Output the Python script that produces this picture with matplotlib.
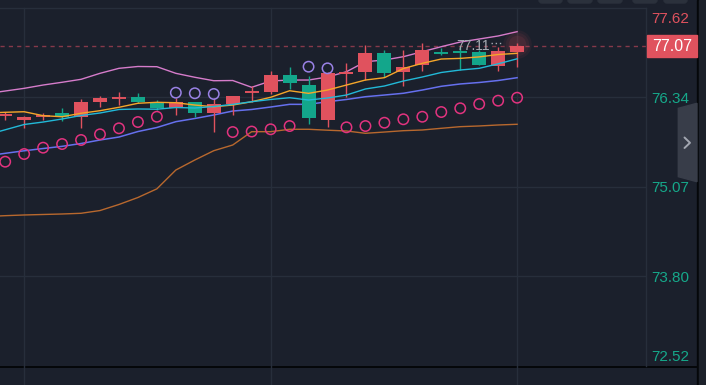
import numpy as np
import matplotlib
matplotlib.use("Agg")
import matplotlib.pyplot as plt
from matplotlib.patches import Rectangle, Polygon, FancyBboxPatch

# ---------------- data ----------------
opens  = [76.08, 76.02, 76.06, 76.12, 76.06, 76.27, 76.32, 76.34, 76.27, 76.18,
          76.265, 76.11, 76.24, 76.40, 76.41, 76.65, 76.51, 76.02, 76.66, 76.70,
          76.96, 76.695, 76.79, 76.975, 76.985, 76.98, 76.78, 76.98]
highs  = [76.13, 76.07, 76.11, 76.18, 76.31, 76.35, 76.41, 76.40, 76.30, 76.33,
          76.27, 76.33, 76.36, 76.49, 76.71, 76.76, 76.64, 76.70, 76.82, 77.08,
          77.01, 77.00, 77.10, 77.04, 77.07, 77.00, 77.05, 77.11]
lows   = [76.01, 75.90, 76.01, 76.00, 75.90, 76.20, 76.23, 76.26, 76.16, 76.085,
          76.06, 75.85, 76.085, 76.27, 76.38, 76.46, 75.95, 75.91, 76.34, 76.58,
          76.62, 76.49, 76.71, 76.93, 76.72, 76.79, 76.71, 76.77]
closes = [76.09, 76.06, 76.07, 76.06, 76.27, 76.32, 76.33, 76.27, 76.18, 76.265,
          76.117, 76.236, 76.35, 76.41, 76.65, 76.54, 76.04, 76.68, 76.69, 76.97,
          76.685, 76.76, 77.00, 76.965, 76.98, 76.80, 76.99, 77.07]

# indicator lines (index -1 .. 27)
band_upper = [76.387, 76.425, 76.463, 76.510, 76.549, 76.591, 76.676, 76.747, 76.773, 76.770,
              76.676, 76.620, 76.571, 76.574, 76.478, 76.567, 76.581, 76.581, 76.624, 76.699,
              76.841, 76.865, 76.912, 76.983, 77.054, 77.120, 77.163, 77.206, 77.267]
ma_orange  = [76.113, 76.123, 76.131, 76.075, 76.060, 76.109, 76.146, 76.194, 76.251, 76.265,
              76.259, 76.226, 76.202, 76.226, 76.273, 76.336, 76.429, 76.392, 76.439, 76.510,
              76.581, 76.614, 76.744, 76.818, 76.879, 76.888, 76.909, 76.943, 76.960]
ma_cyan    = [75.801, 75.875, 75.950, 75.985, 76.028, 76.078, 76.113, 76.163, 76.170, 76.167,
              76.191, 76.184, 76.205, 76.236, 76.273, 76.305, 76.330, 76.297, 76.326, 76.368,
              76.454, 76.496, 76.567, 76.624, 76.688, 76.723, 76.747, 76.811, 76.882]
ma_blue    = [75.503, 75.541, 75.577, 75.609, 75.640, 75.680, 75.730, 75.772, 75.850, 75.907,
              75.990, 76.035, 76.085, 76.141, 76.163, 76.198, 76.236, 76.236, 76.273, 76.305,
              76.344, 76.368, 76.393, 76.439, 76.492, 76.525, 76.546, 76.574, 76.614]
band_lower = [74.644, 74.656, 74.666, 74.673, 74.680, 74.690, 74.729, 74.815, 74.914, 75.037,
              75.304, 75.446, 75.578, 75.659, 75.848, 75.848, 75.882, 75.882, 75.869, 75.858,
              75.825, 75.843, 75.862, 75.872, 75.896, 75.919, 75.929, 75.943, 75.953]

# parabolic SAR (index 0 .. 27); True = dot above price
sar_values = [75.422, 75.531, 75.621, 75.673, 75.730, 75.811, 75.896, 75.985, 76.060, 76.401,
              76.393, 76.383, 75.843, 75.850, 75.882, 75.928, 76.770, 76.747, 75.910, 75.928,
              75.975, 76.024, 76.060, 76.127, 76.180, 76.241, 76.288, 76.330]
sar_above  = [False]*9 + [True]*3 + [False]*4 + [True]*2 + [False]*10

axis_ticks  = [77.62, 76.34, 75.07, 73.80, 72.52]
last_price  = 77.07
high_label  = "77.11"

# ---------------- style ----------------
BG = "#1b202c"
GRID = "#272e3b"
RED = "#e0525e"
GREEN = "#13a68b"
LBL_GREEN = "#16a88a"

W, H = 706, 385
fig = plt.figure(figsize=(W/100, H/100), dpi=100, facecolor=BG)

# background (pixel-coordinate) axes for decorations
bg = fig.add_axes([0, 0, 1, 1], zorder=0)
bg.set_xlim(0, W); bg.set_ylim(H, 0); bg.axis("off")
bg.set_facecolor(BG)

# main plot axes: px x 0..646, y 8..366
px_left, px_right, px_top, px_bot = 0, 646, 8, 366
ax = fig.add_axes([px_left/W, (H-px_bot)/H, (px_right-px_left)/W, (px_bot-px_top)/H], zorder=2)
ax.set_facecolor("none")
step = 18.96
x0 = 5.2
ax.set_xlim(-x0/step, (px_right - x0)/step)
ax.set_ylim(72.523, 77.603)
ax.set_xticks([]); ax.set_yticks([])
for s in ["left", "bottom"]:
    ax.spines[s].set_visible(False)
for s in ["top", "right"]:
    ax.spines[s].set_color(GRID)
    ax.spines[s].set_linewidth(1.0)

# grid
for v in axis_ticks[1:4]:
    ax.axhline(v, color=GRID, lw=1.0, zorder=0)
for i in [1, 14, 27]:
    ax.axvline(i, ymin=-19/358, ymax=1, color=GRID, lw=1.0, zorder=0, clip_on=False)

# bottom black line and right border
bg.plot([0, 698], [366.5, 366.5], color="#05070a", lw=1.4, zorder=3)
bg.add_patch(Rectangle((697, 0), 2, H, color="#05070a", zorder=3))
bg.add_patch(Rectangle((699, 0), 7, H, color="#1d212a", zorder=3))

# top buttons
for xa, xb in [(539, 562), (568, 592), (598, 622), (633, 657), (664, 687)]:
    bg.add_patch(FancyBboxPatch((xa, -6), xb-xa, 9, boxstyle="round,pad=0,rounding_size=3",
                                color="#2b313c", zorder=3))

# right tab with chevron
bg.add_patch(Polygon([(678.3, 108.3), (697, 103.3), (697, 181.7), (678.3, 176.7)],
                     closed=True, color="#383d49", zorder=3))
bg.plot([684.5, 690, 684.5], [137.5, 142.8, 148], color="#a3a7b1", lw=1.4, zorder=4,
        solid_capstyle="round")

# indicator lines
xl = np.arange(-1, 28)
ax.plot(xl, band_lower, color="#b8682e", lw=1.0, zorder=3)
ax.plot(xl, ma_blue, color="#6670ee", lw=1.1, zorder=3)
ax.plot(xl, band_upper, color="#d67ccb", lw=1.0, zorder=3)

# candles
xc = np.arange(len(opens))
bw = 0.74
for i in xc:
    o, h, l, c = opens[i], highs[i], lows[i], closes[i]
    col = RED if c >= o else GREEN
    ax.vlines(i, l, h, color=col, lw=1.0, zorder=4)
    if abs(c - o) < 0.02:
        ax.hlines((o + c) / 2, i - bw/2, i + bw/2, color=col, lw=1.4, zorder=4)
    else:
        ax.bar(i, abs(c - o), bottom=min(o, c), width=bw, color=col, lw=0, zorder=4)

ax.plot(xl, ma_orange, color="#f5a62a", lw=1.0, zorder=5)
ax.plot(xl, ma_cyan, color="#22b9d8", lw=1.0, zorder=5)

# SAR dots
sar_x = np.arange(len(sar_values))
sv = np.array(sar_values); sa = np.array(sar_above)
ax.scatter(sar_x[~sa], sv[~sa], s=56, facecolors="none", edgecolors="#e2337f", linewidths=1.1, zorder=6)
ax.scatter(sar_x[sa], sv[sa], s=56, facecolors="none", edgecolors="#9a82e6", linewidths=1.1, zorder=6)

# last price dashed line
ax.axhline(last_price, color="#86394a", lw=1.0, ls=(0, (3, 3)), zorder=2)

# glow around last candle
for s_, a_ in [(420, 0.07), (280, 0.08), (160, 0.10)]:
    ax.scatter([27], [last_price + 0.02], s=s_, color=RED, alpha=a_, lw=0, zorder=3)

# high label
hi_idx = int(np.argmax(highs))
ax.text(hi_idx - 1.42, highs[hi_idx] - 0.045, high_label, ha="right", va="center",
        fontsize=10, color="#a7abb4", family="Liberation Sans", zorder=7)
ax.plot([hi_idx - 1.38, hi_idx - 0.75], [highs[hi_idx], highs[hi_idx]], color="#a7abb4",
        lw=1.0, ls=(0, (1, 2)), zorder=7)

# right axis labels
ytr = ax.get_yaxis_transform()
lab_x = 651 / 646
label_pos = [77.447, 76.305, 75.045, 73.765, 72.655]
for v, yp in zip(axis_ticks, label_pos):
    col = RED if v > last_price else LBL_GREEN
    ax.text(lab_x, yp, f"{v:.2f}", transform=ytr, ha="left", va="center",
            fontsize=11, color=col, family="Liberation Sans", clip_on=False)

# last price box
box_h = 0.312
ax.add_patch(Rectangle((647/646, last_price - box_h/2), 50/646, box_h, transform=ytr,
                       color=RED, clip_on=False, zorder=8))
ax.text(672/646, last_price - 0.01, f"{last_price:.2f}", transform=ytr, ha="center", va="center",
        fontsize=11.5, color="white", family="Liberation Sans", zorder=9, clip_on=False)

fig.savefig("out.png", dpi=100, facecolor=BG)
